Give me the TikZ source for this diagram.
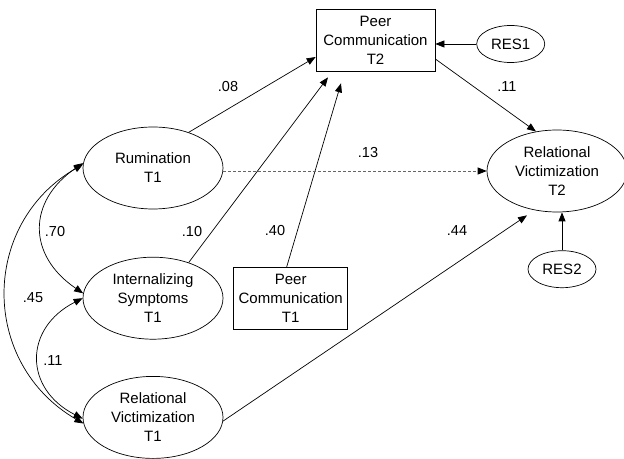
\documentclass[tikz,border=0pt]{standalone}
\usepackage{fontspec}
\setmainfont{Liberation Sans}
\usetikzlibrary{calc, positioning, arrows.meta, shapes.geometric}

\begin{document}
\begin{tikzpicture}[
    x=1pt, y=1pt,
    latent/.style={
        ellipse,
        draw,
        line width=0.7pt,
        minimum width=140pt,
        minimum height=82pt,
        inner sep=1pt,
        font=\fontsize{15}{19}\selectfont,
        align=center
    },
    observed/.style={
        rectangle,
        draw,
        line width=0.7pt,
        minimum height=62pt,
        inner sep=2pt,
        font=\fontsize{15}{19}\selectfont,
        align=center
    },
    resid/.style={
        ellipse,
        draw,
        line width=0.7pt,
        minimum width=68pt,
        minimum height=37pt,
        inner sep=1pt,
        font=\fontsize{15}{19}\selectfont
    },
    regarr/.style={->, >={Triangle[length=9pt, width=7pt]}, line width=0.7pt},
    covarr/.style={<->, >={Triangle[length=9pt, width=7pt]}, line width=0.7pt},
    lbl/.style={font=\fontsize{14.5}{17}\selectfont}
]
\useasboundingbox (0,0) rectangle (624,458);

% Predictors at T1
\node[latent] (rum) at (153,290) {Rumination\\T1};
\node[latent, below=47.5pt of rum] (intl) {Internalizing\\Symptoms\\T1};
\node[latent, below=36.5pt of intl] (rvt1) {Relational\\Victimization\\T1};

% Peer communication
\node[observed, minimum width=114pt, right=10pt of intl] (pc1) {Peer\\Communication\\T1};
\node[observed, minimum width=119pt] (pc2) at (375.5,418) {Peer\\Communication\\T2};

% Outcome
\node[latent] (rvt2) at (557,287) {Relational\\Victimization\\T2};

% Residuals
\node[resid, right=41pt of pc2, yshift=-4pt] (res1) {RES1};
\node[resid, below=38pt of rvt2, xshift=5pt] (res2) {RES2};

% Paths to peer communication T2
\draw[regarr] (rum.45) -- ($(pc2.west)+(0,-17pt)$);
\draw[regarr] (intl.45) -- ($(pc2.south)+(-47.5pt,-6pt)$);
\draw[regarr] ($(pc1.north)+(-4pt,0)$) -- ($(pc2.south)+(-34.5pt,-12pt)$);
\draw[regarr] (res1.west) -- (res1.west -| pc2.east);

% Paths to relational victimization T2
\draw[regarr] ($(pc2.east)+(0,-19pt)$) -- (rvt2.118);
\draw[->, >={Triangle[length=9pt, width=7pt, color=black]}, line width=0.7pt,
    dash pattern=on 3pt off 2pt, draw=black!60] (rum.east |- rvt2.west) -- (rvt2.west);
\draw[regarr] (rvt1.357) -- ($(rvt2.south)+(-30pt,-3pt)$);
\draw[regarr] (res2.north) -- (res2.north |- rvt2.south);

% Correlations among T1 variables
\draw[covarr] (rum.176) .. controls +(-56pt,-38pt) and +(-56pt,38pt) .. (intl.176);
\draw[covarr] (intl.180) .. controls +(-59pt,-30pt) and +(-59pt,30pt) .. (rvt1.181);
\draw[covarr] (rum.177) .. controls +(-103pt,-60pt) and +(-103pt,60pt) .. (rvt1.185);

% Coefficients
\node[lbl] (w08) at (228,371) {.08};
\node[lbl] (w11a) at (507,371) {.11};
\node[lbl] (w13) at (368,305) {.13};
\node[lbl] (w10) at (192,226) {.10};
\node[lbl] (w40) at (275,227) {.40};
\node[lbl] (w44) at (457,227) {.44};
\node[lbl] (w70) at (55,226) {.70};
\node[lbl] (w45) at (33,160) {.45};
\node[lbl] (w11b) at (53,97) {.11};
\end{tikzpicture}
\end{document}
